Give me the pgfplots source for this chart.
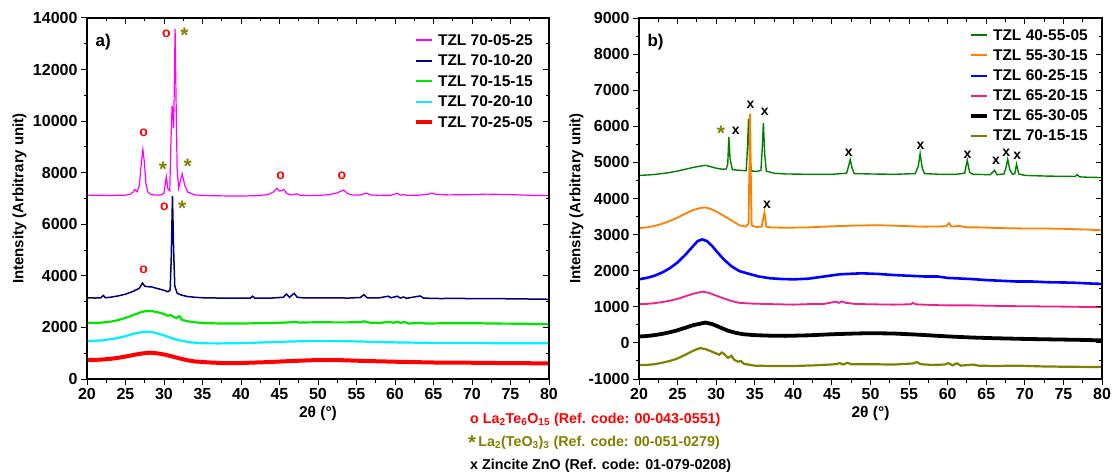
\documentclass[border=0pt]{standalone}
\usepackage{pgfplots}
\pgfplotsset{compat=1.18}
\usepackage{fontspec}
\setmainfont{Liberation Sans}

\definecolor{cMag}{RGB}{255,0,255}
\definecolor{cNavy}{RGB}{0,0,128}
\definecolor{cLime}{RGB}{0,230,0}
\definecolor{cCyan}{RGB}{0,240,255}
\definecolor{cRed}{RGB}{255,0,0}
\definecolor{cDGreen}{RGB}{0,128,0}
\definecolor{cOrange}{RGB}{255,128,0}
\definecolor{cBlue}{RGB}{0,0,255}
\definecolor{cPink}{RGB}{240,30,140}
\definecolor{cOlive}{RGB}{128,128,0}

\newcommand{\ofont}{\fontsize{14}{14}\selectfont\bfseries}
\newcommand{\sfontstar}{\fontsize{21}{21}\selectfont\bfseries}

\pgfplotsset{
  panel/.style={
    scale only axis, height=361pt,
    xmin=20, xmax=80, xtick={20,25,...,80}, minor x tick num=1,
    scaled ticks=false,
    axis line style={line width=1.1pt},
    tick style={black, line width=1pt},
    major tick length=6pt, minor tick length=3.5pt,
    tick align=outside, tick pos=left,
    ticklabel style={font=\fontsize{16}{16}\selectfont\bfseries},
    /pgf/number format/assume math mode=true,
    /pgf/number format/1000 sep={},
    xlabel style={font=\fontsize{15.5}{15.5}\selectfont\bfseries, at={(axis description cs:0.5,-0.095)}, anchor=center},
    ylabel style={font=\fontsize{15}{15}\selectfont\bfseries, anchor=center},
    clip mode=individual,
    legend cell align=left,
    legend image code/.code={\draw[##1] (0pt,0pt) -- (16pt,0pt);},
    legend style={draw=none, fill=none, inner sep=0pt, column sep=4pt,
      font=\fontsize{15.5}{15.5}\selectfont\bfseries, nodes={inner sep=0pt}},
  },
  mirror/.style={
    scale only axis, height=361pt,
    xmin=20, xmax=80, xtick={20,25,...,80}, minor x tick num=1,
    scaled ticks=false,
    axis line style={line width=1.1pt},
    tick style={black, line width=1pt},
    major tick length=6pt, minor tick length=3.5pt,
    tick align=inside, tick pos=right,
    xticklabels={}, yticklabels={},
  },
}

\begin{document}
\begin{tikzpicture}
\useasboundingbox (0,0) rectangle (1115pt,474pt);

% ---------------- panel a ----------------
\begin{axis}[panel, at={(87pt,95pt)}, anchor=south west, width=462pt,
  ymin=0, ymax=14000, ytick={0,2000,...,14000}, minor y tick num=1,
  xlabel={2θ (°)}, ylabel={Intensity (Arbitrary unit)},
  ylabel style={at={(axis description cs:-0.146,0.5)}},
  legend style={at={(rel axis cs:1,1)}, anchor=north east, xshift=-16pt, yshift=-16pt, row sep=8.2pt},
]
\addlegendimage{draw=cMag, line width=2pt}\addlegendentry{TZL 70-05-25}
\addlegendimage{draw=cNavy, line width=2pt}\addlegendentry{TZL 70-10-20}
\addlegendimage{draw=cLime, line width=2pt}\addlegendentry{TZL 70-15-15}
\addlegendimage{draw=cCyan, line width=2pt}\addlegendentry{TZL 70-20-10}
\addlegendimage{draw=cRed, line width=4pt}\addlegendentry{TZL 70-25-05}

\addplot[cMag, line width=1.2pt, forget plot] coordinates {
(20,7136)(21,7120)(22,7130)(23,7110)(24,7125)(25,7130)(25.6,7160)(26.0,7250)(26.2,7350)(26.5,7260)(26.8,7500)(27.0,8200)(27.26,8900)(27.45,8400)(27.65,7600)(27.9,7250)(28.3,7160)(29,7130)(29.6,7140)(30.0,7200)(30.3,7846)(30.5,7380)(30.75,7300)(30.9,9200)(31.05,10587)(31.15,10400)(31.25,9722)(31.35,11500)(31.44,13573)(31.55,11200)(31.7,8200)(31.9,7400)(32.1,7650)(32.37,7950)(32.7,7500)(33.1,7250)(34,7140)(35,7120)(36,7110)(38,7100)(40,7095)(42,7110)(43.5,7150)(44.2,7250)(44.65,7396)(45.0,7290)(45.2,7300)(45.58,7350)(45.9,7210)(46.4,7140)(47.3,7180)(47.6,7130)(49,7110)(50,7120)(51.5,7150)(52.5,7220)(53.35,7330)(53.8,7200)(54.5,7130)(55.5,7140)(56.3,7210)(56.8,7140)(58,7120)(59.5,7130)(60.3,7200)(60.7,7130)(61.2,7150)(61.6,7120)(63,7125)(64.4,7170)(64.8,7210)(65.3,7160)(67,7140)(70,7150)(72,7170)(75,7150)(78,7120)(80,7110)
};
\addplot[cNavy, line width=1.5pt, forget plot] coordinates {
(20,3153)(21,3140)(21.8,3150)(22.1,3240)(22.4,3150)(23,3170)(24,3220)(25,3290)(26,3400)(26.8,3520)(27.2,3720)(27.5,3600)(27.9,3580)(28.4,3570)(29,3520)(29.5,3480)(30.0,3440)(30.5,3386)(30.8,3450)(30.95,4800)(31.1,7097)(31.25,5000)(31.4,3600)(31.7,3330)(32.2,3260)(33,3200)(34,3170)(35,3150)(37,3140)(39,3135)(41.2,3135)(41.5,3210)(41.8,3135)(44,3140)(45.5,3170)(45.9,3296)(46.3,3170)(46.9,3322)(47.3,3170)(48,3150)(50,3150)(52,3145)(54,3140)(55.5,3160)(55.95,3270)(56.4,3150)(58,3150)(59.1,3210)(59.5,3150)(60.3,3210)(60.7,3140)(61.1,3180)(61.5,3130)(63.26,3220)(63.7,3140)(64.5,3130)(66,3120)(68,3130)(70,3115)(72,3120)(75,3110)(78,3100)(80,3091)
};
\addplot[cLime, line width=2.2pt, forget plot] coordinates {
(20,2183)(21,2170)(22,2190)(23,2220)(24,2280)(25,2370)(26,2480)(27,2590)(27.7,2637)(28.5,2630)(29.3,2580)(30,2520)(30.5,2450)(30.84,2482)(31.2,2420)(31.6,2360)(32.0,2437)(32.3,2300)(33,2240)(34,2200)(35,2170)(37,2155)(39,2150)(42,2160)(45,2180)(46.5,2200)(47,2220)(47.5,2190)(50,2200)(53,2195)(55.5,2200)(56,2237)(56.8,2180)(58,2175)(59.3,2215)(59.8,2180)(60.3,2220)(60.8,2170)(61.2,2215)(61.8,2150)(63.3,2180)(64,2150)(66,2160)(70,2165)(73,2150)(76,2145)(80,2125)
};
\addplot[cCyan, line width=2.2pt, forget plot] coordinates {
(20,1474)(21,1480)(22,1500)(23,1540)(24,1590)(25,1660)(26,1750)(27,1810)(27.8,1835)(28.6,1810)(29.5,1740)(30.5,1640)(31.5,1540)(32.5,1470)(33.5,1420)(35,1384)(37,1380)(40,1390)(43,1420)(46,1450)(50,1480)(53,1470)(56,1450)(60,1420)(65,1400)(70,1395)(75,1385)(80,1384)
};
\addplot[cRed, line width=4pt, forget plot] coordinates {
(20,737)(21,740)(22,755)(23,780)(24,820)(25,870)(26,930)(27,985)(28.1,1021)(29,1000)(30,950)(31,880)(32,800)(33,730)(34,680)(36,640)(38,615)(40,620)(43,650)(46,690)(50,737)(53,730)(56,700)(60,670)(65,640)(70,630)(75,615)(80,607)
};

\node[font=\fontsize{17}{17}\selectfont\bfseries] at (axis cs:22.1,13081) {a)};
\node[font=\ofont, text=cRed] at (axis cs:27.35,9540) {o};
\node[font=\ofont, text=cRed] at (axis cs:30.3,13368) {o};
\node[font=\ofont, text=cRed] at (axis cs:45.16,7873) {o};
\node[font=\ofont, text=cRed] at (axis cs:53.1,7873) {o};
\node[font=\ofont, text=cRed] at (axis cs:30.05,6682) {o};
\node[font=\ofont, text=cRed] at (axis cs:27.35,4254) {o};
\node[font=\sfontstar, text=cOlive, yshift=-4pt] at (axis cs:32.65,13470) {*};
\node[font=\sfontstar, text=cOlive, yshift=-4pt] at (axis cs:29.86,8300) {*};
\node[font=\sfontstar, text=cOlive, yshift=-4pt] at (axis cs:33.07,8390) {*};
\node[font=\sfontstar, text=cOlive, yshift=-4pt] at (axis cs:32.37,6787) {*};
\end{axis}
\begin{axis}[mirror, at={(87pt,95pt)}, anchor=south west, width=462pt,
  ymin=0, ymax=14000, ytick={0,2000,...,14000}, minor y tick num=1]
\end{axis}

% ---------------- panel b ----------------
\begin{axis}[panel, at={(639pt,95pt)}, anchor=south west, width=463pt,
  ymin=-1000, ymax=9000, ytick={-1000,0,...,9000}, minor y tick num=1,
  xlabel={2θ (°)}, ylabel={Intensity (Arbitrary unit)},
  ylabel style={at={(axis description cs:-0.135,0.5)}},
  legend style={at={(rel axis cs:1,1)}, anchor=north east, xshift=-14pt, yshift=-11pt, row sep=7.8pt},
]
\addlegendimage{draw=cDGreen, line width=2pt}\addlegendentry{TZL 40-55-05}
\addlegendimage{draw=cOrange, line width=2pt}\addlegendentry{TZL 55-30-15}
\addlegendimage{draw=cBlue, line width=2pt}\addlegendentry{TZL 60-25-15}
\addlegendimage{draw=cPink, line width=2pt}\addlegendentry{TZL 65-20-15}
\addlegendimage{draw=black, line width=4pt}\addlegendentry{TZL 65-30-05}
\addlegendimage{draw=cOlive, line width=2pt}\addlegendentry{TZL 70-15-15}

\addplot[cDGreen, line width=1.4pt, forget plot] coordinates {
(20,4640)(21,4650)(22,4665)(23,4690)(24,4720)(25,4760)(26,4810)(27,4860)(28,4900)(28.6,4920)(29.3,4880)(30,4840)(30.8,4810)(31.3,4820)(31.5,4950)(31.64,5702)(31.8,5100)(32.1,4800)(33,4780)(33.9,4770)(34.05,5400)(34.2,6215)(34.35,5100)(34.6,4760)(35.3,4750)(35.8,4780)(35.95,5300)(36.12,6089)(36.3,5200)(36.5,4760)(37.5,4700)(39,4680)(42,4670)(45,4670)(46.9,4700)(47.1,4850)(47.37,5077)(47.6,4850)(47.9,4690)(50,4680)(53,4670)(55.8,4690)(56.2,4900)(56.43,5243)(56.7,4850)(57,4690)(59,4670)(61,4670)(62.2,4700)(62.54,5060)(62.85,4720)(63.3,4670)(65.5,4660)(66.07,4782)(66.4,4660)(67.3,4680)(67.55,4850)(67.78,5088)(68.05,4800)(68.4,4670)(68.7,4690)(68.93,4951)(69.2,4680)(70,4640)(73,4620)(76.5,4610)(76.8,4660)(77.1,4600)(78,4590)(80,4580)
};
\addplot[cOrange, line width=1.8pt, forget plot] coordinates {
(20,3180)(21,3200)(22,3240)(23,3300)(24,3380)(25,3470)(26,3580)(27,3680)(28,3740)(28.6,3751)(29.3,3710)(30,3640)(31,3520)(32,3390)(33,3260)(33.8,3220)(34.2,3300)(34.3,4800)(34.4,6354)(34.5,4500)(34.6,3250)(35.2,3210)(35.9,3220)(36.26,3613)(36.5,3220)(37,3200)(39,3190)(42,3200)(45,3230)(48,3250)(51,3260)(54,3240)(57,3220)(59.8,3230)(60.15,3318)(60.5,3220)(61.5,3240)(62.5,3200)(64,3200)(67,3180)(70,3170)(72,3170)(75,3160)(78,3140)(80,3120)
};
\addplot[cBlue, line width=2.6pt, forget plot] coordinates {
(20,1762)(21,1800)(22,1860)(23,1950)(24,2070)(25,2230)(26,2440)(27,2680)(27.6,2820)(28.2,2867)(28.8,2820)(29.5,2680)(30.2,2500)(31,2310)(32,2120)(33,1990)(34.3,1910)(35.5,1840)(37,1790)(38.5,1770)(40,1760)(42,1780)(44,1840)(46,1900)(48.85,1928)(51,1910)(53,1880)(55,1860)(57,1840)(58.7,1840)(60,1800)(61,1790)(63,1770)(65,1740)(67,1720)(69,1700)(71,1700)(73,1680)(76,1670)(78,1650)(80,1633)
};
\addplot[cPink, line width=1.8pt, forget plot] coordinates {
(20,1072)(21,1080)(22,1100)(23,1130)(24,1170)(25,1220)(26,1290)(27,1360)(28.2,1420)(29,1390)(30,1310)(31,1230)(32,1160)(33,1110)(34.5,1090)(36,1080)(38,1070)(40,1060)(42,1075)(44,1080)(45.5,1144)(45.9,1110)(46.3,1150)(46.8,1110)(48,1080)(50,1070)(53,1060)(55.2,1070)(55.5,1110)(55.8,1070)(58,1050)(60,1040)(63,1040)(65,1030)(68,1020)(70,1015)(75,1005)(80,989)
};
\addplot[black, line width=3.8pt, forget plot] coordinates {
(20,177)(21,190)(22,215)(23,250)(24,295)(25,350)(26,420)(27,490)(28.6,563)(29.5,520)(30.5,430)(31.5,340)(32.5,280)(33.5,240)(35,215)(37,200)(39,195)(42,210)(45,240)(48,260)(50,270)(53,260)(56,230)(60,180)(63,150)(66,130)(70,110)(74,95)(77,85)(80,70)
};
\addplot[cOlive, line width=2.2pt, forget plot] coordinates {
(20,-613)(21,-610)(22,-590)(23,-550)(24,-500)(25,-430)(26,-330)(27,-220)(27.87,-144)(28.6,-170)(29.3,-230)(30,-290)(30.4,-330)(30.73,-265)(31.1,-320)(31.5,-410)(31.75,-390)(32.0,-356)(32.3,-460)(32.8,-520)(33.2,-500)(33.6,-580)(35,-630)(37,-640)(40,-640)(43,-620)(45.5,-590)(46,-560)(46.5,-600)(47,-550)(47.5,-590)(50,-590)(53,-600)(55.5,-570)(56,-530)(56.5,-590)(58,-610)(59.6,-600)(60.1,-560)(60.6,-620)(61.2,-565)(61.7,-630)(63.3,-600)(64,-630)(66,-640)(69,-630)(72,-650)(75,-660)(78,-665)(80,-669)
};

\node[font=\fontsize{17}{17}\selectfont\bfseries] at (axis cs:22.15,8326) {b)};
\node[font=\sfontstar, text=cOlive, yshift=-4pt] at (axis cs:30.63,5906) {*};
\node[font=\ofont] at (axis cs:32.54,5870) {x};
\node[font=\ofont] at (axis cs:34.45,6605) {x};
\node[font=\ofont] at (axis cs:36.3,6411) {x};
\node[font=\ofont] at (axis cs:47.18,5271) {x};
\node[font=\ofont] at (axis cs:56.48,5455) {x};
\node[font=\ofont] at (axis cs:62.58,5224) {x};
\node[font=\ofont] at (axis cs:66.26,5040) {x};
\node[font=\ofont] at (axis cs:67.6,5261) {x};
\node[font=\ofont] at (axis cs:69.02,5169) {x};
\node[font=\ofont] at (axis cs:36.6,3834) {x};
\end{axis}
\begin{axis}[mirror, at={(639pt,95pt)}, anchor=south west, width=463pt,
  ymin=-1000, ymax=9000, ytick={-1000,0,...,9000}, minor y tick num=1]
\end{axis}

% ---------------- reference notes ----------------
\node[anchor=base west, inner sep=0pt, text=cRed, font=\fontsize{14.3}{14.3}\selectfont\bfseries] at (470pt,51pt)
  {o La\textsubscript{2}Te\textsubscript{6}O\textsubscript{15} (Ref. code: 00-043-0551)};
\node[anchor=base west, inner sep=0pt, text=cOlive, font=\fontsize{14.3}{14.3}\selectfont\bfseries] at (468pt,28pt)
  {\raisebox{-0.22em}{\fontsize{20}{20}\selectfont *}\,La\textsubscript{2}(TeO\textsubscript{3})\textsubscript{3} (Ref. code: 00-051-0279)};
\node[anchor=base west, inner sep=0pt, text=black, font=\fontsize{14.3}{14.3}\selectfont\bfseries] at (470pt,5pt)
  {x Zincite ZnO (Ref. code: 01-079-0208)};
\end{tikzpicture}
\end{document}
